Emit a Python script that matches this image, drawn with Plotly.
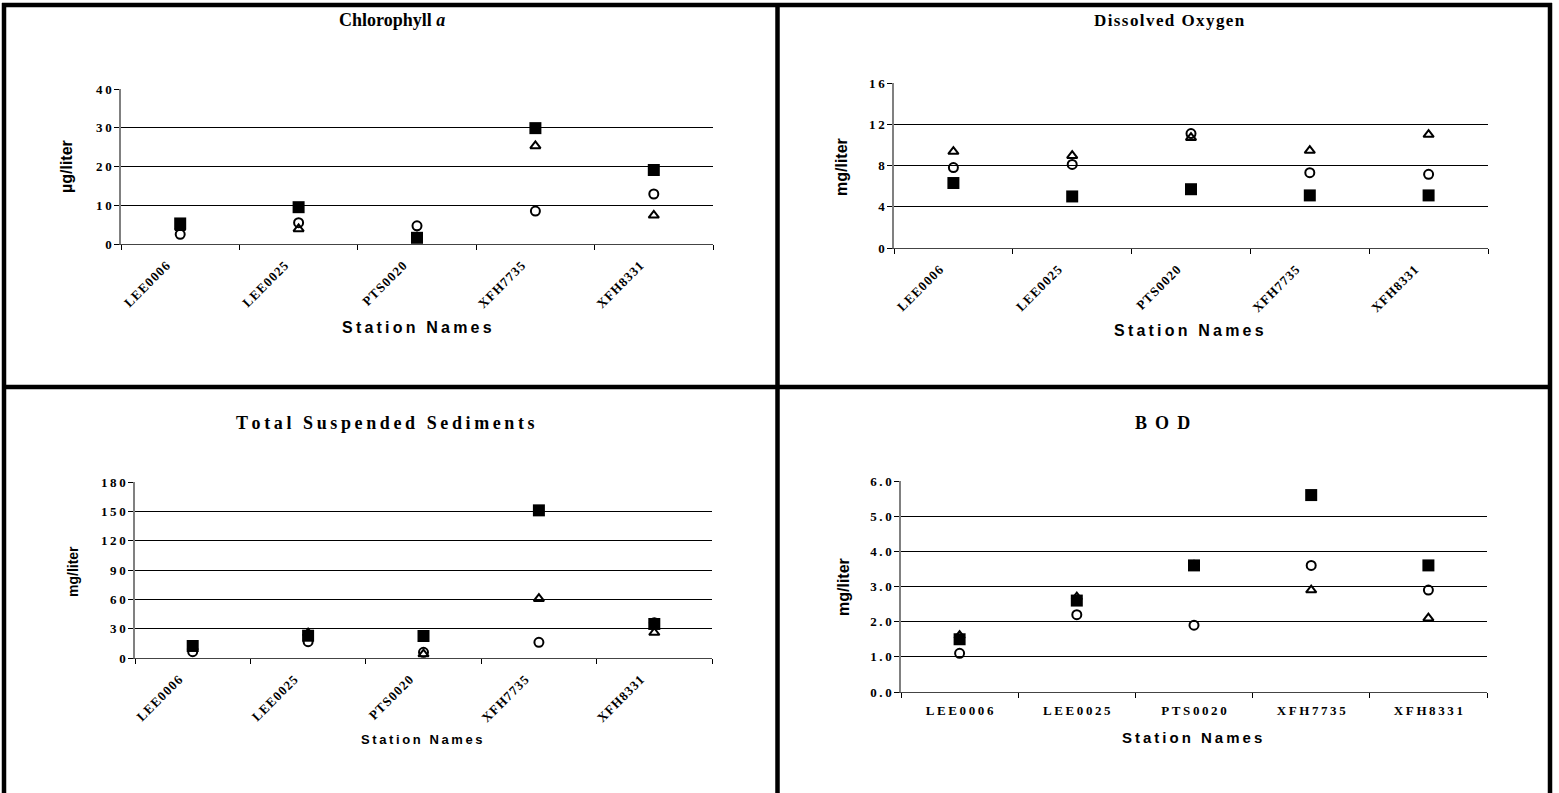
import plotly.graph_objects as go

# ---------------- data ----------------
stations = ["LEE0006", "LEE0025", "PTS0020", "XFH7735", "XFH8331"]

chl_square = [5.3, 9.5, 1.6, 29.9, 19.1]
chl_circle = [2.5, 5.5, 4.7, 8.5, 12.9]
chl_triangle = [4.2, 3.9, 1.8, 25.3, 7.4]

do_square = [6.3, 5.0, 5.7, 5.1, 5.1]
do_circle = [7.8, 8.1, 11.1, 7.3, 7.15]
do_triangle = [9.35, 8.95, 10.7, 9.45, 11.0]

tss_square = [12.3, 22.8, 22.5, 151.0, 34.8]
tss_circle = [6.5, 16.7, 5.8, 16.0, 36.0]
tss_triangle = [11.0, 25.5, 4.0, 60.7, 26.0]

bod_square = [1.5, 2.6, 3.6, 5.6, 3.6]
bod_circle = [1.1, 2.2, 1.9, 3.6, 2.9]
bod_triangle = [1.6, 2.7, 3.6, 2.9, 2.1]

chl_ticks = [0, 10, 20, 30, 40]
do_ticks = [0, 4, 8, 12, 16]
tss_ticks = [0, 30, 60, 90, 120, 150, 180]
bod_ticks = [0, 1, 2, 3, 4, 5, 6]

# ---------------- layout helpers ----------------
W, H = 1559, 793
THIN = "\u2009"
HAIR = "\u200a"


def spaced(s, sep):
    return sep.join(list(s))


def px_x(x):
    return x / W


def px_y(y):
    return 1 - y / H


panels = [
    dict(key="chl", xs=(121, 713), ys=(89, 244),
         data=(chl_square, chl_circle, chl_triangle), ticks=chl_ticks, fmt="{:d}",
         title="Chlorophyll <i>a</i>", tpos=(392, 20), tfs=18,
         ytitle="µg/liter", ytpos=(67, 167), ytfs=16,
         xtitle="Station Names", xtpos=(417, 327), xtfs=16, rotate=True),
    dict(key="do", xs=(894, 1488), ys=(83, 248),
         data=(do_square, do_circle, do_triangle), ticks=do_ticks, fmt="{:d}",
         title=spaced("Dissolved Oxygen", HAIR), tpos=(1169, 20), tfs=17,
         ytitle="mg/liter", ytpos=(842, 167), ytfs=16,
         xtitle="Station Names", xtpos=(1189, 330), xtfs=16, rotate=True),
    dict(key="tss", xs=(135, 712), ys=(482, 658),
         data=(tss_square, tss_circle, tss_triangle), ticks=tss_ticks, fmt="{:d}",
         title=spaced("Total Suspended Sediments", THIN), tpos=(385, 423), tfs=18,
         ytitle="mg/liter", ytpos=(73, 572), ytfs=14,
         xtitle="Station Names", xtpos=(422, 739), xtfs=13, rotate=True),
    dict(key="bod", xs=(901, 1487), ys=(481, 692),
         data=(bod_square, bod_circle, bod_triangle), ticks=bod_ticks, fmt="{:.1f}",
         title="B" + " " + THIN + "O" + " " + THIN + "D", tpos=(1162, 423), tfs=18,
         ytitle="mg/liter", ytpos=(843, 587), ytfs=16,
         xtitle="Station Names", xtpos=(1192, 737), xtfs=15, rotate=False),
]

fig = go.Figure()
annotations = []
serif = "Liberation Serif"
sans = "Liberation Sans"

for i, p in enumerate(panels, start=1):
    xa = "x" if i == 1 else f"x{i}"
    ya = "y" if i == 1 else f"y{i}"
    sq, ci, tr = p["data"]
    # triangle, circle, then square on top
    fig.add_trace(go.Scatter(x=stations, y=tr, mode="markers", xaxis=xa, yaxis=ya,
                             marker=dict(symbol="triangle-up-open", size=9, color="black",
                                         line=dict(width=2, color="black")),
                             cliponaxis=False, showlegend=False, name="triangle"))
    fig.add_trace(go.Scatter(x=stations, y=ci, mode="markers", xaxis=xa, yaxis=ya,
                             marker=dict(symbol="circle-open", size=9, color="black",
                                         line=dict(width=2, color="black")),
                             cliponaxis=False, showlegend=False, name="circle"))
    fig.add_trace(go.Scatter(x=stations, y=sq, mode="markers", xaxis=xa, yaxis=ya,
                             marker=dict(symbol="square", size=12, color="black"),
                             cliponaxis=False, showlegend=False, name="square"))

    ticks = p["ticks"]
    if p["rotate"]:
        xticktext = [spaced(s, HAIR) for s in stations]
        xfont = dict(family=serif, size=13, color="black", weight="bold")
        angle = -45
        shift = -14
        standoff = 8
    else:
        xticktext = [spaced(s, THIN) for s in stations]
        xfont = dict(family=serif, size=13, color="black", weight="bold")
        angle = 0
        shift = 0
        standoff = 6

    xkey = "xaxis" if i == 1 else f"xaxis{i}"
    ykey = "yaxis" if i == 1 else f"yaxis{i}"
    fig.update_layout(**{
        xkey: dict(domain=[px_x(p["xs"][0]), px_x(p["xs"][1])], anchor=ya,
                   type="category", categoryorder="array", categoryarray=stations,
                   range=[-0.5, len(stations) - 0.5],
                   tickmode="array", tickvals=stations, ticktext=xticktext,
                   tickson="boundaries", ticks="outside", ticklen=5, tickwidth=1,
                   tickcolor="black", tickangle=angle, tickfont=xfont,
                   ticklabelshift=shift, ticklabelstandoff=standoff,
                   showgrid=False, showline=True, linecolor="#444444", linewidth=1,
                   zeroline=False, fixedrange=True, automargin=False),
        ykey: dict(domain=[px_y(p["ys"][1]), px_y(p["ys"][0])], anchor=xa,
                   range=[ticks[0], ticks[-1]],
                   tickmode="array", tickvals=ticks,
                   ticktext=[spaced(p["fmt"].format(t), THIN) for t in ticks],
                   ticks="outside", ticklen=5, tickwidth=1, tickcolor="black",
                   tickfont=dict(family=serif, size=13, color="black", weight="bold"),
                   showgrid=True, gridcolor="black", gridwidth=1,
                   showline=True, linecolor="#808080", linewidth=1.5,
                   zeroline=False, fixedrange=True, automargin=False),
    })

    annotations.append(dict(text=p["title"], x=px_x(p["tpos"][0]), y=px_y(p["tpos"][1]),
                            xref="paper", yref="paper", showarrow=False,
                            xanchor="center", yanchor="middle",
                            font=dict(family=serif, size=p["tfs"], color="black",
                                      weight="bold")))
    annotations.append(dict(text=spaced(p["xtitle"], THIN), x=px_x(p["xtpos"][0]),
                            y=px_y(p["xtpos"][1]), xref="paper", yref="paper",
                            showarrow=False, xanchor="center", yanchor="middle",
                            font=dict(family=sans, size=p["xtfs"], color="black",
                                      weight="bold")))
    annotations.append(dict(text=p["ytitle"], x=px_x(p["ytpos"][0]), y=px_y(p["ytpos"][1]),
                            xref="paper", yref="paper", showarrow=False, textangle=-90,
                            xanchor="center", yanchor="middle",
                            font=dict(family=sans, size=p["ytfs"], color="black",
                                      weight="bold")))

# panel borders
BW = 4.5
shapes = []


def line(x0, y0, x1, y1):
    shapes.append(dict(type="line", xref="paper", yref="paper",
                       x0=px_x(x0), y0=px_y(y0), x1=px_x(x1), y1=px_y(y1),
                       line=dict(color="black", width=BW)))


line(2, 5, 1552, 5)         # top
line(4, 3, 4, 800)          # left
line(1550, 3, 1550, 800)    # right
line(777.5, 3, 777.5, 800)  # middle vertical
line(2, 387, 1552, 387)     # middle horizontal

fig.update_layout(
    width=W, height=H,
    margin=dict(l=0, r=0, t=0, b=0),
    paper_bgcolor="white", plot_bgcolor="white",
    showlegend=False,
    annotations=annotations,
    shapes=shapes,
)

fig.write_html("out.html", config={"displayModeBar": False},
               post_script="document.body.style.margin='0';document.body.style.overflow='hidden';")
